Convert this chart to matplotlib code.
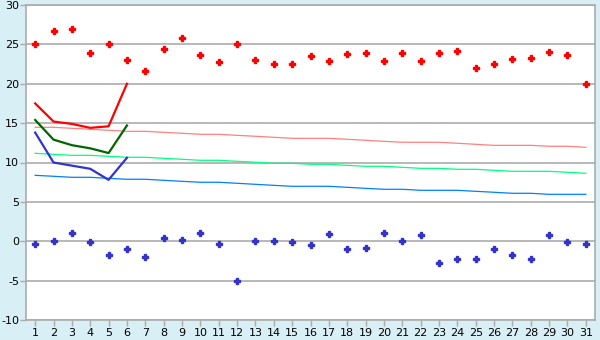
import matplotlib
matplotlib.use('Agg')
import matplotlib.pyplot as plt

plt.rcParams['axes.unicode_minus'] = False

# days of the month
days = list(range(1, 32))

# daily max / min temperature (points)
t_max = [25.0, 26.7, 27.0, 23.9, 25.0, 23.0, 21.6, 24.4, 25.8, 23.6,
         22.7, 25.0, 23.0, 22.5, 22.5, 23.5, 22.9, 23.8, 23.9, 22.9,
         23.9, 22.9, 23.9, 24.2, 22.0, 22.5, 23.2, 23.3, 24.0, 23.6, 20.0]
t_min = [-0.4, 0.0, 1.0, -0.1, -1.8, -1.0, -2.0, 0.4, 0.2, 1.1,
         -0.3, -5.0, 0.0, 0.0, -0.1, -0.5, 0.9, -1.0, -0.8, 1.0,
         0.0, 0.8, -2.8, -2.2, -2.2, -1.0, -1.8, -2.3, 0.8, -0.1, -0.3]

# first days, thick lines
days_short = [1, 2, 3, 4, 5, 6]
line_max = [17.5, 15.2, 14.9, 14.4, 14.6, 20.0]
line_avg = [15.4, 12.9, 12.2, 11.8, 11.2, 14.7]
line_min = [13.8, 10.0, 9.6, 9.2, 7.8, 10.6]

# normals (thin lines)
norm_max = [14.47, 14.47, 14.34, 14.22, 14.09, 13.96, 13.96, 13.83, 13.71, 13.58,
            13.58, 13.45, 13.33, 13.20, 13.07, 13.07, 13.07, 12.95, 12.82, 12.69,
            12.57, 12.57, 12.57, 12.44, 12.31, 12.18, 12.18, 12.18, 12.06, 12.06, 11.93]
norm_avg = [11.17, 11.04, 10.91, 10.91, 10.79, 10.66, 10.66, 10.53, 10.41, 10.28,
            10.28, 10.15, 10.03, 9.90, 9.90, 9.77, 9.77, 9.64, 9.52, 9.52,
            9.39, 9.26, 9.26, 9.14, 9.14, 9.01, 8.88, 8.88, 8.88, 8.76, 8.63]
norm_min = [8.37, 8.25, 8.12, 8.12, 7.99, 7.87, 7.87, 7.74, 7.61, 7.49,
            7.49, 7.36, 7.23, 7.10, 6.98, 6.98, 6.98, 6.85, 6.72, 6.60,
            6.60, 6.47, 6.47, 6.47, 6.34, 6.22, 6.09, 6.09, 5.96, 5.96, 5.96]

bg = '#d9eff6'
grid = '#ababab'

fig = plt.figure(figsize=(6, 3.4), dpi=100, facecolor=bg)
ax = fig.add_axes([26/600, 1-320/340, 569/600, 315/340])
ax.set_facecolor('white')

# grid lines
ax.set_ylim(-10, 30)
ax.set_xlim(0.5, 31.5)
ax.set_yticks(range(-10, 31, 5))
ax.yaxis.grid(True, color=grid, linewidth=1.2)
ax.set_axisbelow(True)

# normals
ax.plot(days, norm_max, color='#ff8080', linewidth=0.9)
ax.plot(days, norm_avg, color='#00ff80', linewidth=0.9)
ax.plot(days, norm_min, color='#0080ff', linewidth=0.9)

# thick lines
ax.plot(days_short, line_max, color='#ff0000', linewidth=1.6)
ax.plot(days_short, line_avg, color='#006600', linewidth=1.6)
ax.plot(days_short, line_min, color='#3333cc', linewidth=1.6)

# points
ax.plot(days, t_max, linestyle='none', marker='P', markersize=4,
        color='#ff0000', markeredgewidth=1)
ax.plot(days, t_min, linestyle='none', marker='P', markersize=4,
        color='#3333cc', markeredgewidth=1)

ax.set_xticks(days)
ax.set_xticklabels([str(d) for d in days])
ax.tick_params(axis='both', colors=grid, labelcolor='black', labelsize=8,
               length=4, width=1, direction='out')
ax.tick_params(axis='x', pad=2)
ax.tick_params(axis='y', pad=1)

for s in ['left', 'right', 'bottom', 'top']:
    ax.spines[s].set_color(grid)
    ax.spines[s].set_linewidth(1.2)

fig.savefig('out.png', dpi=100, facecolor=bg)
